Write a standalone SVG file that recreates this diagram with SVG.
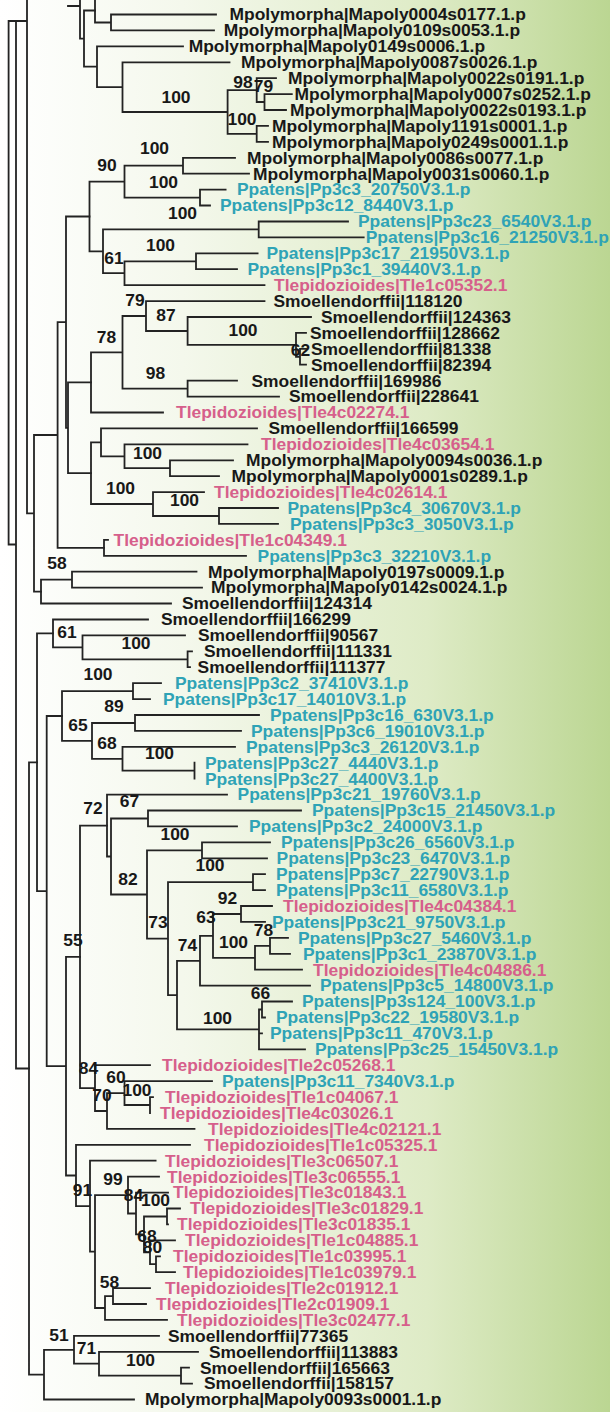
<svg xmlns="http://www.w3.org/2000/svg" width="610" height="1412" viewBox="0 0 610 1412">
<defs>
<linearGradient id="bg" x1="0" y1="0" x2="1" y2="0">
<stop offset="0" stop-color="#ffffff"/>
<stop offset="0.3" stop-color="#f4f8ec"/>
<stop offset="0.7" stop-color="#deebc6"/>
<stop offset="1" stop-color="#bbd692"/>
</linearGradient>
<style>
.e{fill:none;stroke:#232323;stroke-width:1.8;stroke-linecap:square}
text{font-family:"Liberation Sans",Arial,sans-serif;font-weight:bold;font-size:16px}
.m{fill:#181818}.p{fill:#2fa3b6}.t{fill:#d65f8b}
.b{fill:#181818;text-anchor:middle}
</style>
</defs>
<rect width="610" height="1412" fill="url(#bg)"/>
<g id="connectors" class="e">
<path d="M95 -1.4H220M111 14.5V30.4M111 14.5H216M111 30.4H214M95 -1.4V22.5M95 22.5H111"/>
<path d="M264.5 94.1V110M264.5 94.1H291.8M264.5 110H286M256.7 78.2V102M256.7 78.2H276M256.7 102H264.5M256.7 125.9V141.9M256.7 125.9H268M256.7 141.9H268M227.6 90.1V133.9M227.6 90.1H256.7M227.6 133.9H256.7M122.5 62.3V112M122.5 62.3H229.5M122.5 112H227.6M97 46.3V87.1M97 46.3H183M97 87.1H122.5M84 10.5V66.7M84 10.5H95M84 66.7H97M80 -27V38.6M80 38.6H84M68 6H80"/>
<path d="M183 157.8V173.7M183 157.8H235M183 173.7H249M200 189.6V205.5M200 189.6H225.6M200 205.5H210M124.5 165.7V197.6M124.5 165.7H183M124.5 197.6H200M258.7 221.5V237.4M258.7 221.5H348M258.7 237.4H363.7M196 253.3V269.2M196 253.3H257.6M196 269.2H237M124.5 261.3V285.1M124.5 261.3H196M124.5 285.1H264.5M103 229.4V273.2M103 229.4H258.7M103 273.2H124.5M89.5 181.7V251.3M89.5 181.7H124.5M89.5 251.3H103"/>
<path d="M300 348.8V364.7M300 348.8H306M300 364.7H306M296 332.9V356.8M296 332.9H306M296 356.8H300M187.6 317V344.9M187.6 317H311M187.6 344.9H296M146 301.1V331M146 301.1H264.5M146 331H187.6M187.6 380.7V396.6M187.6 380.7H237M187.6 396.6H279M122.5 316V388.6M122.5 316H146M122.5 388.6H187.6M91 352.3V412.5M91 352.3H122.5M91 412.5H163"/>
<path d="M170 460.3V476.2M170 460.3H233M170 476.2H219M124.5 444.3V468.2M124.5 444.3H247.5M124.5 468.2H170M101 428.4V456.3M101 428.4H257M101 456.3H124.5M219 508V523.9M219 508H278M219 523.9H278M153 492.1V516M153 492.1H204M153 516H219M91 442.4V504M91 442.4H101M91 504H153M104 539.9V555.8M104 539.9H108M104 555.8H246M72 571.7V587.6M72 571.7H196.5M72 587.6H202M41 579.7V603.5M41 579.7H72M41 603.5H171"/>
<path d="M68 382.4V473.2M68 382.4H91M68 473.2H91M66 216.5V427.8M66 216.5H89.5M66 427.8H68M57.6 322.2V547.8M57.6 322.2H66M57.6 547.8H104M34 435V591.6M34 435H57.6M34 591.6H41M27 0V513.3M27 513.3H34M8.6 21V544.5M8.6 21H27M8.6 544.5H16M16 21V1068.5M16 1068.5H29"/>
<path d="M187.6 651.3V667.2M187.6 651.3H192M187.6 667.2H190M82.5 635.4V659.3M82.5 635.4H185M82.5 659.3H187.6M53 619.5V647.3M53 619.5H148M53 647.3H82.5M133 683.1V699.1M133 683.1H161M133 699.1H150M135 715V730.9M135 715H259M135 730.9H241M194.5 762.7V778.7M122.5 746.8V770.7M122.5 746.8H235M122.5 770.7H194.5M92 723V758.8M92 723H135M92 758.8H122.5M62 691.1V740.9M62 691.1H133M62 740.9H92"/>
<path d="M148 810.5V826.4M148 810.5H301M148 826.4H237M202 842.3V858.3M202 842.3H270M202 858.3H267M253 874.2V890.1M253 874.2H265M253 890.1H265M241 906V921.9M241 906H272M241 921.9H265M270 937.9V953.8M270 937.9H288M270 953.8H290M255 945.8V969.7M255 945.8H270M255 969.7H302M213 914V957.8M213 914H241M213 957.8H255M200 935.9V985.6M200 935.9H213M200 985.6H310M262 1001.5V1017.5M262 1001.5H292M262 1017.5H265M259 1009.5V1049.3M259 1009.5H262M259 1033.4H262M259 1049.3H305M177 960.8V1029.4M177 960.8H200M177 1029.4H259M168 882.2V995.1M168 882.2H253M168 995.1H177M147 850.3V938.7M147 850.3H202M147 938.7H168M111 818.5V894.5M111 818.5H148M111 894.5H147M107 794.6V856.5M107 794.6H227M107 856.5H111"/>
<path d="M150 1097.1V1113M150 1097.1H153M124.5 1081.1V1105M124.5 1081.1H212M124.5 1105H150M107 1093.1V1128.9M107 1093.1H124.5M107 1128.9H194.5M95 1065.2V1111M95 1065.2H150M95 1111H107M80 825.6V1088.1M80 825.6H107M80 1088.1H95"/>
<path d="M167 1208.5V1224.4M167 1208.5H180M167 1224.4H168M156 1256.3V1272.2M156 1256.3H160M156 1272.2H175M150 1240.3V1264.2M150 1240.3H175M150 1264.2H156M144 1216.5V1252.3M144 1216.5H167M144 1252.3H150M136 1192.6V1234.4M136 1192.6H168M136 1234.4H144M128 1176.7V1213.5M128 1176.7H159M128 1213.5H136M113 1288.1V1304M113 1288.1H150M113 1304H146M105 1296.1V1319.9M105 1296.1H113M105 1319.9H167M95 1195.1V1308M95 1195.1H128M95 1308H105M90 1160.7V1251.6M90 1160.7H155.6M90 1251.6H95M76 1144.8V1206.2M76 1144.8H190M76 1206.2H90M66 956.9V1175.5M66 956.9H80M66 1175.5H76M46.7 716V1066.2M46.7 716H62M46.7 1066.2H66M37 633.4V891.1M37 633.4H53M37 891.1H46.7"/>
<path d="M181 1367.7V1383.6M181 1367.7H189M181 1383.6H192M99 1351.8V1375.7M99 1351.8H198M99 1375.7H181M74 1335.9V1363.7M74 1335.9H159M74 1363.7H99M44 1349.8V1399.5M44 1349.8H74M44 1399.5H134M29 762.3V1374.7M29 762.3H37M29 1374.7H44"/>
</g>
<g id="leaves">
<g id="L2"><text class="m" transform="translate(229.5 20.3) scale(1.09 1)">Mpolymorpha|Mapoly0004s0177.1.p</text></g>
<g id="L3"><text class="m" transform="translate(223.7 36.2) scale(1.09 1)">Mpolymorpha|Mapoly0109s0053.1.p</text></g>
<g id="L4"><text class="m" transform="translate(188.7 52.1) scale(1.09 1)">Mpolymorpha|Mapoly0149s0006.1.p</text></g>
<g id="L5"><text class="m" transform="translate(241 68.1) scale(1.09 1)">Mpolymorpha|Mapoly0087s0026.1.p</text></g>
<g id="L6"><text class="m" transform="translate(288 84) scale(1.09 1)">Mpolymorpha|Mapoly0022s0191.1.p</text></g>
<g id="L7"><text class="m" transform="translate(294.5 99.9) scale(1.09 1)">Mpolymorpha|Mapoly0007s0252.1.p</text></g>
<g id="L8"><text class="m" transform="translate(290 115.8) scale(1.09 1)">Mpolymorpha|Mapoly0022s0193.1.p</text></g>
<g id="L9"><text class="m" transform="translate(272 131.7) scale(1.09 1)">Mpolymorpha|Mapoly1191s0001.1.p</text></g>
<g id="L10"><text class="m" transform="translate(272 147.7) scale(1.09 1)">Mpolymorpha|Mapoly0249s0001.1.p</text></g>
<g id="L11"><text class="m" transform="translate(247 163.6) scale(1.09 1)">Mpolymorpha|Mapoly0086s0077.1.p</text></g>
<g id="L12"><text class="m" transform="translate(253 179.5) scale(1.09 1)">Mpolymorpha|Mapoly0031s0060.1.p</text></g>
<g id="L13"><text class="p" transform="translate(237 195.4) scale(1.09 1)">Ppatens|Pp3c3_20750V3.1.p</text></g>
<g id="L14"><text class="p" transform="translate(220 211.3) scale(1.09 1)">Ppatens|Pp3c12_8440V3.1.p</text></g>
<g id="L15"><text class="p" transform="translate(358 227.3) scale(1.09 1)">Ppatens|Pp3c23_6540V3.1.p</text></g>
<g id="L16"><text class="p" transform="translate(365.7 243.2) scale(1.09 1)">Ppatens|Pp3c16_21250V3.1.p</text></g>
<g id="L17"><text class="p" transform="translate(266.5 259.1) scale(1.09 1)">Ppatens|Pp3c17_21950V3.1.p</text></g>
<g id="L18"><text class="p" transform="translate(247.5 275) scale(1.09 1)">Ppatens|Pp3c1_39440V3.1.p</text></g>
<g id="L19"><text class="t" transform="translate(274 290.9) scale(1.09 1)">Tlepidozioides|Tle1c05352.1</text></g>
<g id="L20"><text class="m" transform="translate(273.5 306.9) scale(1.09 1)">Smoellendorffii|118120</text></g>
<g id="L21"><text class="m" transform="translate(321 322.8) scale(1.09 1)">Smoellendorffii|124363</text></g>
<g id="L22"><text class="m" transform="translate(310 338.7) scale(1.09 1)">Smoellendorffii|128662</text></g>
<g id="L23"><text class="m" transform="translate(311 354.6) scale(1.09 1)">Smoellendorffii|81338</text></g>
<g id="L24"><text class="m" transform="translate(311 370.5) scale(1.09 1)">Smoellendorffii|82394</text></g>
<g id="L25"><text class="m" transform="translate(251.5 386.5) scale(1.09 1)">Smoellendorffii|169986</text></g>
<g id="L26"><text class="m" transform="translate(289 402.4) scale(1.09 1)">Smoellendorffii|228641</text></g>
<g id="L27"><text class="t" transform="translate(176 418.3) scale(1.09 1)">Tlepidozioides|Tle4c02274.1</text></g>
<g id="L28"><text class="m" transform="translate(268.5 434.2) scale(1.09 1)">Smoellendorffii|166599</text></g>
<g id="L29"><text class="t" transform="translate(261 450.1) scale(1.09 1)">Tlepidozioides|Tle4c03654.1</text></g>
<g id="L30"><text class="m" transform="translate(246 466.1) scale(1.09 1)">Mpolymorpha|Mapoly0094s0036.1.p</text></g>
<g id="L31"><text class="m" transform="translate(231.5 482) scale(1.09 1)">Mpolymorpha|Mapoly0001s0289.1.p</text></g>
<g id="L32"><text class="t" transform="translate(214 497.9) scale(1.09 1)">Tlepidozioides|Tle4c02614.1</text></g>
<g id="L33"><text class="p" transform="translate(287.5 513.8) scale(1.09 1)">Ppatens|Pp3c4_30670V3.1.p</text></g>
<g id="L34"><text class="p" transform="translate(290 529.7) scale(1.09 1)">Ppatens|Pp3c3_3050V3.1.p</text></g>
<g id="L35"><text class="t" transform="translate(113.5 545.7) scale(1.09 1)">Tlepidozioides|Tle1c04349.1</text></g>
<g id="L36"><text class="p" transform="translate(257.6 561.6) scale(1.09 1)">Ppatens|Pp3c3_32210V3.1.p</text></g>
<g id="L37"><text class="m" transform="translate(208 577.5) scale(1.09 1)">Mpolymorpha|Mapoly0197s0009.1.p</text></g>
<g id="L38"><text class="m" transform="translate(211 593.4) scale(1.09 1)">Mpolymorpha|Mapoly0142s0024.1.p</text></g>
<g id="L39"><text class="m" transform="translate(182 609.3) scale(1.09 1)">Smoellendorffii|124314</text></g>
<g id="L40"><text class="m" transform="translate(161 625.3) scale(1.09 1)">Smoellendorffii|166299</text></g>
<g id="L41"><text class="m" transform="translate(198 641.2) scale(1.09 1)">Smoellendorffii|90567</text></g>
<g id="L42"><text class="m" transform="translate(204 657.1) scale(1.09 1)">Smoellendorffii|111331</text></g>
<g id="L43"><text class="m" transform="translate(197.6 673) scale(1.09 1)">Smoellendorffii|111377</text></g>
<g id="L44"><text class="p" transform="translate(175 688.9) scale(1.09 1)">Ppatens|Pp3c2_37410V3.1.p</text></g>
<g id="L45"><text class="p" transform="translate(163 704.9) scale(1.09 1)">Ppatens|Pp3c17_14010V3.1.p</text></g>
<g id="L46"><text class="p" transform="translate(270 720.8) scale(1.09 1)">Ppatens|Pp3c16_630V3.1.p</text></g>
<g id="L47"><text class="p" transform="translate(251 736.7) scale(1.09 1)">Ppatens|Pp3c6_19010V3.1.p</text></g>
<g id="L48"><text class="p" transform="translate(246 752.6) scale(1.09 1)">Ppatens|Pp3c3_26120V3.1.p</text></g>
<g id="L49"><text class="p" transform="translate(205 768.5) scale(1.09 1)">Ppatens|Pp3c27_4440V3.1.p</text></g>
<g id="L50"><text class="p" transform="translate(205 784.5) scale(1.09 1)">Ppatens|Pp3c27_4400V3.1.p</text></g>
<g id="L51"><text class="p" transform="translate(237.6 800.4) scale(1.09 1)">Ppatens|Pp3c21_19760V3.1.p</text></g>
<g id="L52"><text class="p" transform="translate(312 816.3) scale(1.09 1)">Ppatens|Pp3c15_21450V3.1.p</text></g>
<g id="L53"><text class="p" transform="translate(249 832.2) scale(1.09 1)">Ppatens|Pp3c2_24000V3.1.p</text></g>
<g id="L54"><text class="p" transform="translate(281 848.1) scale(1.09 1)">Ppatens|Pp3c26_6560V3.1.p</text></g>
<g id="L55"><text class="p" transform="translate(276.6 864.1) scale(1.09 1)">Ppatens|Pp3c23_6470V3.1.p</text></g>
<g id="L56"><text class="p" transform="translate(276 880) scale(1.09 1)">Ppatens|Pp3c7_22790V3.1.p</text></g>
<g id="L57"><text class="p" transform="translate(276 895.9) scale(1.09 1)">Ppatens|Pp3c11_6580V3.1.p</text></g>
<g id="L58"><text class="t" transform="translate(283 911.8) scale(1.09 1)">Tlepidozioides|Tle4c04384.1</text></g>
<g id="L59"><text class="p" transform="translate(272 927.7) scale(1.09 1)">Ppatens|Pp3c21_9750V3.1.p</text></g>
<g id="L60"><text class="p" transform="translate(298 943.7) scale(1.09 1)">Ppatens|Pp3c27_5460V3.1.p</text></g>
<g id="L61"><text class="p" transform="translate(303 959.6) scale(1.09 1)">Ppatens|Pp3c1_23870V3.1.p</text></g>
<g id="L62"><text class="t" transform="translate(313 975.5) scale(1.09 1)">Tlepidozioides|Tle4c04886.1</text></g>
<g id="L63"><text class="p" transform="translate(320 991.4) scale(1.09 1)">Ppatens|Pp3c5_14800V3.1.p</text></g>
<g id="L64"><text class="p" transform="translate(302 1007.3) scale(1.09 1)">Ppatens|Pp3s124_100V3.1.p</text></g>
<g id="L65"><text class="p" transform="translate(276 1023.3) scale(1.09 1)">Ppatens|Pp3c22_19580V3.1.p</text></g>
<g id="L66"><text class="p" transform="translate(270 1039.2) scale(1.09 1)">Ppatens|Pp3c11_470V3.1.p</text></g>
<g id="L67"><text class="p" transform="translate(315 1055.1) scale(1.09 1)">Ppatens|Pp3c25_15450V3.1.p</text></g>
<g id="L68"><text class="t" transform="translate(162 1071) scale(1.09 1)">Tlepidozioides|Tle2c05268.1</text></g>
<g id="L69"><text class="p" transform="translate(222 1086.9) scale(1.09 1)">Ppatens|Pp3c11_7340V3.1.p</text></g>
<g id="L70"><text class="t" transform="translate(165 1102.9) scale(1.09 1)">Tlepidozioides|Tle1c04067.1</text></g>
<g id="L71"><text class="t" transform="translate(160 1118.8) scale(1.09 1)">Tlepidozioides|Tle4c03026.1</text></g>
<g id="L72"><text class="t" transform="translate(208 1134.7) scale(1.09 1)">Tlepidozioides|Tle4c02121.1</text></g>
<g id="L73"><text class="t" transform="translate(204 1150.6) scale(1.09 1)">Tlepidozioides|Tle1c05325.1</text></g>
<g id="L74"><text class="t" transform="translate(165 1166.5) scale(1.09 1)">Tlepidozioides|Tle3c06507.1</text></g>
<g id="L75"><text class="t" transform="translate(167 1182.5) scale(1.09 1)">Tlepidozioides|Tle3c06555.1</text></g>
<g id="L76"><text class="t" transform="translate(173 1198.4) scale(1.09 1)">Tlepidozioides|Tle3c01843.1</text></g>
<g id="L77"><text class="t" transform="translate(190 1214.3) scale(1.09 1)">Tlepidozioides|Tle3c01829.1</text></g>
<g id="L78"><text class="t" transform="translate(177 1230.2) scale(1.09 1)">Tlepidozioides|Tle3c01835.1</text></g>
<g id="L79"><text class="t" transform="translate(185 1246.1) scale(1.09 1)">Tlepidozioides|Tle1c04885.1</text></g>
<g id="L80"><text class="t" transform="translate(173 1262.1) scale(1.09 1)">Tlepidozioides|Tle1c03995.1</text></g>
<g id="L81"><text class="t" transform="translate(183 1278) scale(1.09 1)">Tlepidozioides|Tle1c03979.1</text></g>
<g id="L82"><text class="t" transform="translate(165 1293.9) scale(1.09 1)">Tlepidozioides|Tle2c01912.1</text></g>
<g id="L83"><text class="t" transform="translate(156 1309.8) scale(1.09 1)">Tlepidozioides|Tle2c01909.1</text></g>
<g id="L84"><text class="t" transform="translate(177 1325.7) scale(1.09 1)">Tlepidozioides|Tle3c02477.1</text></g>
<g id="L85"><text class="m" transform="translate(168 1341.7) scale(1.09 1)">Smoellendorffii|77365</text></g>
<g id="L86"><text class="m" transform="translate(209 1357.6) scale(1.09 1)">Smoellendorffii|113883</text></g>
<g id="L87"><text class="m" transform="translate(200 1373.5) scale(1.09 1)">Smoellendorffii|165663</text></g>
<g id="L88"><text class="m" transform="translate(204 1389.4) scale(1.09 1)">Smoellendorffii|158157</text></g>
<g id="L89"><text class="m" transform="translate(145 1405.3) scale(1.09 1)">Mpolymorpha|Mapoly0093s0001.1.p</text></g>
</g>
<g id="support">
<text class="b" transform="translate(243 87.8) scale(1.09 1)">98</text>
<text class="b" transform="translate(263.5 91.8) scale(1.09 1)">79</text>
<text class="b" transform="translate(176 102.8) scale(1.09 1)">100</text>
<text class="b" transform="translate(242 124.8) scale(1.09 1)">100</text>
<text class="b" transform="translate(154.5 153.8) scale(1.09 1)">100</text>
<text class="b" transform="translate(107 170.8) scale(1.09 1)">90</text>
<text class="b" transform="translate(163.5 187.8) scale(1.09 1)">100</text>
<text class="b" transform="translate(182.5 218.8) scale(1.09 1)">100</text>
<text class="b" transform="translate(160.5 250.8) scale(1.09 1)">100</text>
<text class="b" transform="translate(114 263.8) scale(1.09 1)">61</text>
<text class="b" transform="translate(135 305.8) scale(1.09 1)">79</text>
<text class="b" transform="translate(166 320.8) scale(1.09 1)">87</text>
<text class="b" transform="translate(243 335.8) scale(1.09 1)">100</text>
<text class="b" transform="translate(106.5 342.8) scale(1.09 1)">78</text>
<text class="b" transform="translate(300.5 355.8) scale(1.09 1)">62</text>
<text class="b" transform="translate(155.5 378.8) scale(1.09 1)">98</text>
<text class="b" transform="translate(147.5 458.8) scale(1.09 1)">100</text>
<text class="b" transform="translate(120.5 493.8) scale(1.09 1)">100</text>
<text class="b" transform="translate(184.5 505.8) scale(1.09 1)">100</text>
<text class="b" transform="translate(57 568.8) scale(1.09 1)">58</text>
<text class="b" transform="translate(67 637.8) scale(1.09 1)">61</text>
<text class="b" transform="translate(136 648.8) scale(1.09 1)">100</text>
<text class="b" transform="translate(98 679.8) scale(1.09 1)">100</text>
<text class="b" transform="translate(114 711.8) scale(1.09 1)">89</text>
<text class="b" transform="translate(78 730.8) scale(1.09 1)">65</text>
<text class="b" transform="translate(107 748.8) scale(1.09 1)">68</text>
<text class="b" transform="translate(159.5 758.8) scale(1.09 1)">100</text>
<text class="b" transform="translate(129.5 806.8) scale(1.09 1)">67</text>
<text class="b" transform="translate(93 813.8) scale(1.09 1)">72</text>
<text class="b" transform="translate(175 839.8) scale(1.09 1)">100</text>
<text class="b" transform="translate(210 870.8) scale(1.09 1)">100</text>
<text class="b" transform="translate(128 884.8) scale(1.09 1)">82</text>
<text class="b" transform="translate(227.5 903.8) scale(1.09 1)">92</text>
<text class="b" transform="translate(206 922.8) scale(1.09 1)">63</text>
<text class="b" transform="translate(158 927.8) scale(1.09 1)">73</text>
<text class="b" transform="translate(263.5 935.8) scale(1.09 1)">78</text>
<text class="b" transform="translate(73 945.8) scale(1.09 1)">55</text>
<text class="b" transform="translate(233.5 947.8) scale(1.09 1)">100</text>
<text class="b" transform="translate(187.5 950.8) scale(1.09 1)">74</text>
<text class="b" transform="translate(260.5 998.8) scale(1.09 1)">66</text>
<text class="b" transform="translate(217.5 1023.8) scale(1.09 1)">100</text>
<text class="b" transform="translate(88.5 1073.8) scale(1.09 1)">84</text>
<text class="b" transform="translate(116 1082.8) scale(1.09 1)">60</text>
<text class="b" transform="translate(137 1095.8) scale(1.09 1)">100</text>
<text class="b" transform="translate(102 1100.8) scale(1.09 1)">70</text>
<text class="b" transform="translate(113 1184.8) scale(1.09 1)">99</text>
<text class="b" transform="translate(82.5 1195.8) scale(1.09 1)">91</text>
<text class="b" transform="translate(133.5 1200.8) scale(1.09 1)">84</text>
<text class="b" transform="translate(155.5 1205.8) scale(1.09 1)">100</text>
<text class="b" transform="translate(147 1241.8) scale(1.09 1)">68</text>
<text class="b" transform="translate(152.5 1252.8) scale(1.09 1)">80</text>
<text class="b" transform="translate(109.5 1287.8) scale(1.09 1)">58</text>
<text class="b" transform="translate(59 1340.8) scale(1.09 1)">51</text>
<text class="b" transform="translate(86.5 1353.8) scale(1.09 1)">71</text>
<text class="b" transform="translate(140.5 1365.8) scale(1.09 1)">100</text>
</g>
</svg>
